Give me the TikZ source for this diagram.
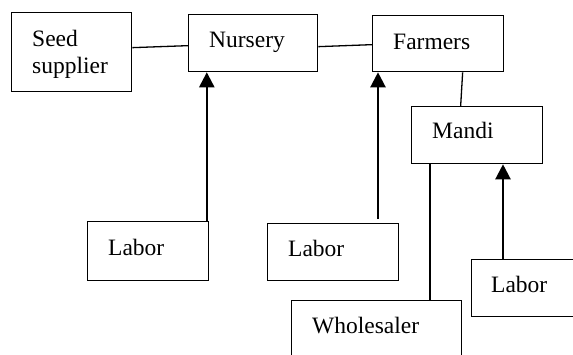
\documentclass[tikz,border=0pt]{standalone}
\usepackage{fontspec}
\setmainfont{Liberation Serif}
\usetikzlibrary{arrows.meta}
\begin{document}
\begin{tikzpicture}[x=1pt,y=-1pt,
  box/.style={draw, line width=1.3pt, rectangle, anchor=north west, inner sep=0pt},
  lbl/.style={anchor=base west, inner sep=0pt, font=\fontsize{23.5}{27}\selectfont},
  link/.style={line width=1.3pt},
  arr/.style={line width=2.3pt, -{Triangle[length=15pt,width=15pt]}}]
\useasboundingbox (0,0) rectangle (573,354);
\clip (0,0) rectangle (573,354);
% boxes
\node[box, minimum width=120pt, minimum height=79pt] (seed) at (11,12) {};
\node[box, minimum width=129pt, minimum height=57pt] (nursery) at (188,14) {};
\node[box, minimum width=131pt, minimum height=56pt] (farmers) at (372,15) {};
\node[box, minimum width=131pt, minimum height=57pt] (mandi) at (411,106) {};
\node[box, minimum width=121pt, minimum height=59pt] (labor1) at (87,221) {};
\node[box, minimum width=131pt, minimum height=57pt] (labor2) at (267,223) {};
\node[box, minimum width=130pt, minimum height=57pt] (labor3) at (471,259) {};
\node[box, minimum width=170pt, minimum height=90pt] (whole) at (291,300) {};
% texts
\node[lbl] (tseed1) at (32,46) {Seed};
\node[lbl] (tseed2) at (32,73) {supplier};
\node[lbl] (tnursery) at (209,47) {Nursery};
\node[lbl] (tfarmers) at (393,49) {Farmers};
\node[lbl] (tmandi) at (432,138) {Mandi};
\node[lbl] (tlabor1) at (108,255) {Labor};
\node[lbl] (tlabor2) at (288,256) {Labor};
\node[lbl] (tlabor3) at (491,292) {Labor};
\node[lbl] (twhole) at (312,333) {Wholesaler};
% plain links
\draw[link] ([yshift=4.5pt]seed.east) -- ([yshift=-2.5pt]nursery.west);
\draw[link] ([yshift=-3.5pt]nursery.east) -- ([yshift=-1pt]farmers.west);
\draw[link] ([xshift=24.5pt]farmers.south) -- ([xshift=-16.5pt]mandi.north);
\draw[link] ([xshift=19pt]mandi.south west) -- ([xshift=19pt]mandi.south west |- whole.north);
% arrows from labor
\draw[arr] ([xshift=-2.5pt]labor1.north east) -- ([xshift=-2.5pt]labor1.north east |- nursery.south);
\draw[arr] ([xshift=111pt,yshift=4pt]labor2.north west) -- ([xshift=111pt]labor2.north west |- farmers.south);
\draw[arr] ([xshift=32pt]labor3.north west) -- ([xshift=32pt]labor3.north west |- mandi.south);
\end{tikzpicture}
\end{document}
